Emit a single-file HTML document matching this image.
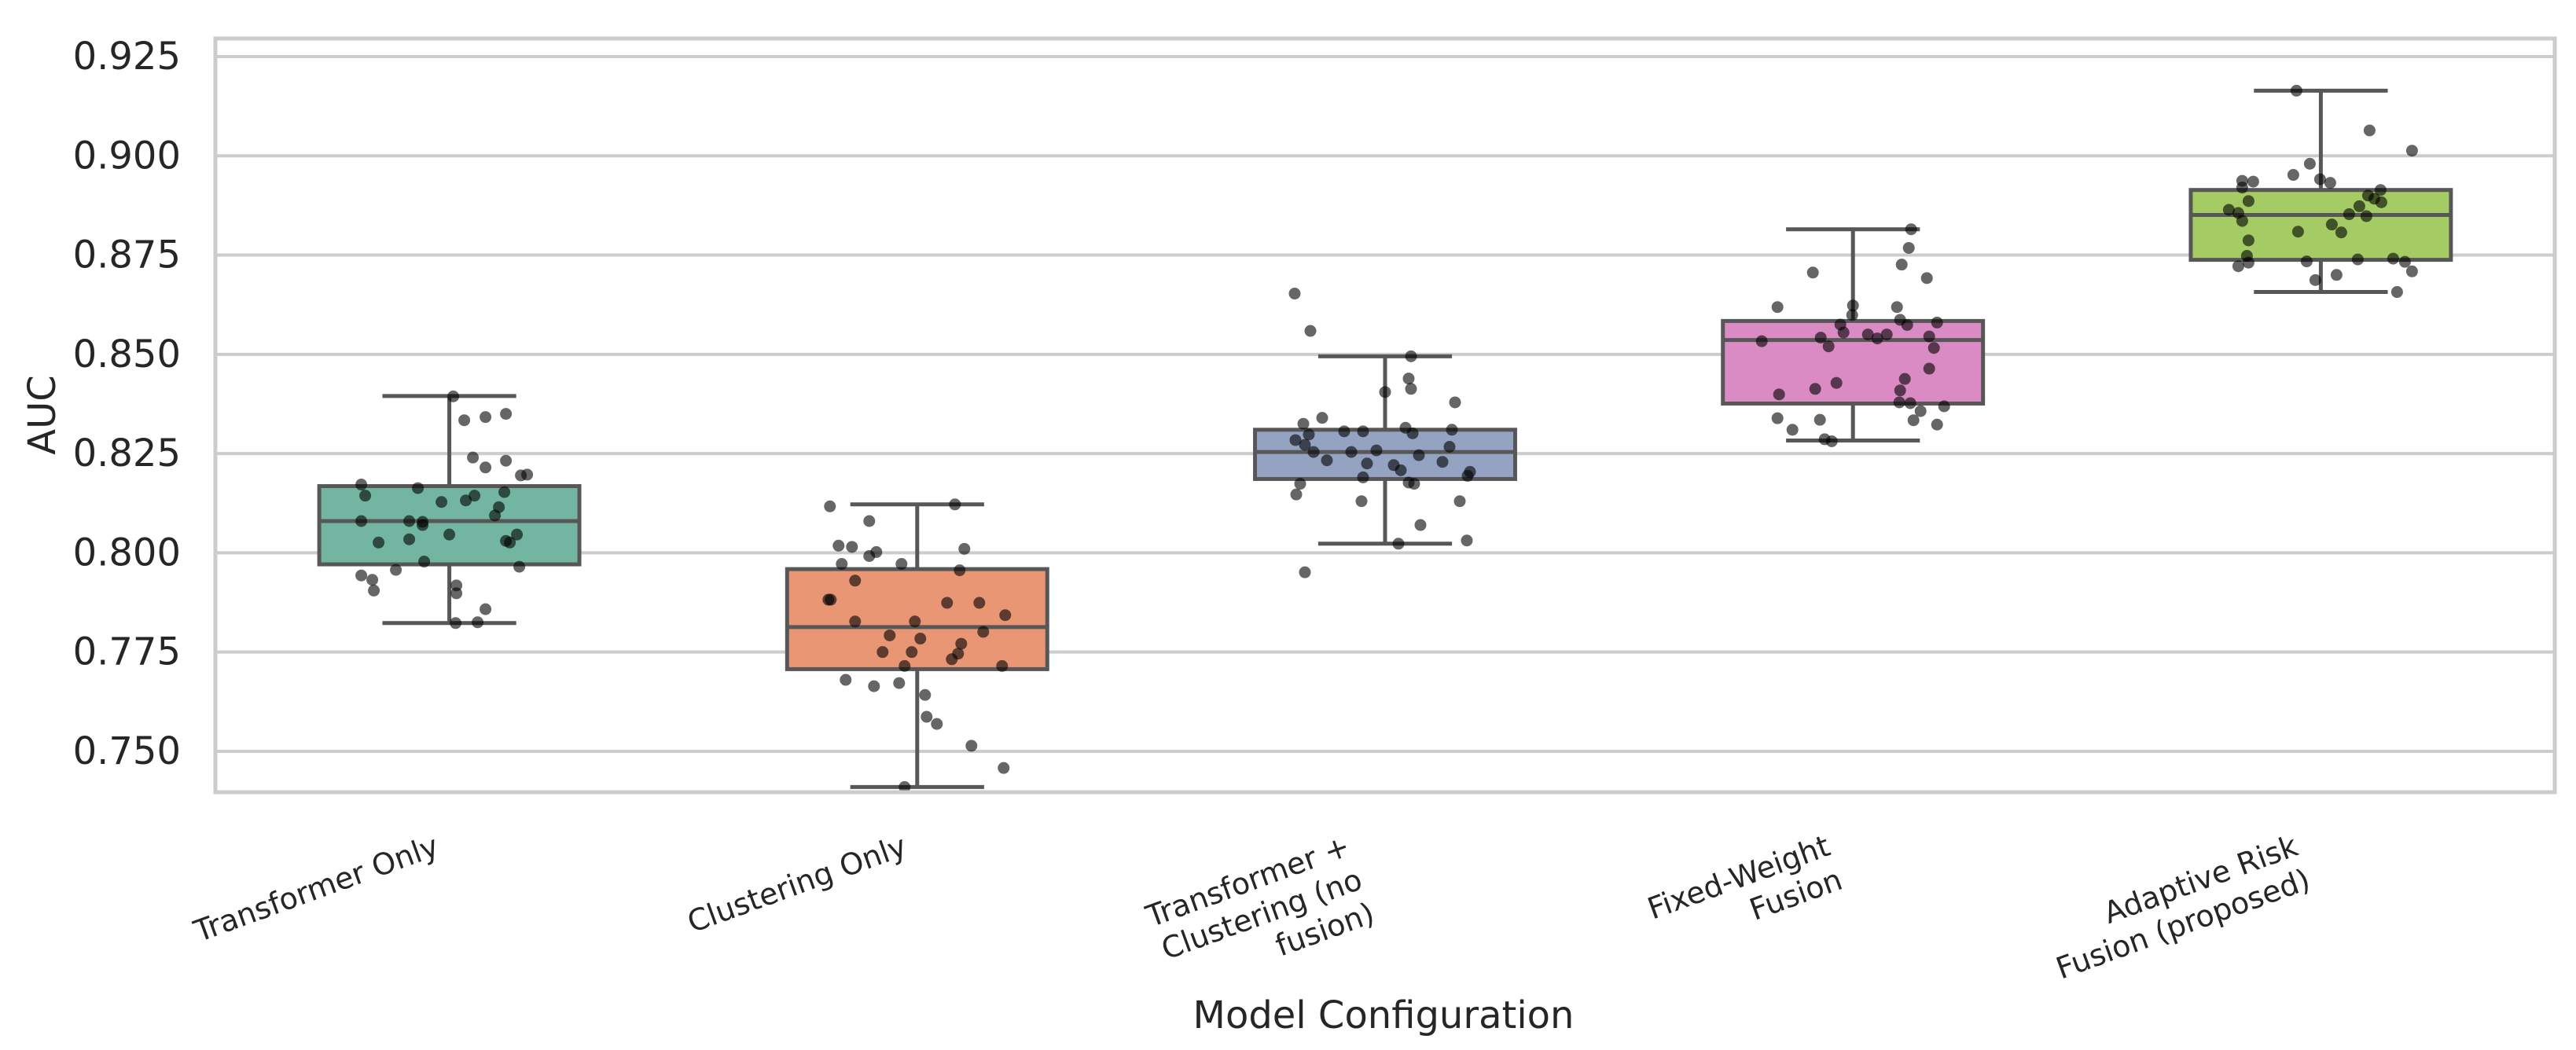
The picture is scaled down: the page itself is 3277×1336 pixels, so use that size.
<!DOCTYPE html>
<html><head><meta charset="utf-8">
<style>
html,body{margin:0;padding:0;background:#fff;}
svg{display:block;font-family:"DejaVu Sans","Liberation Sans",sans-serif;}
</style></head>
<body>
<svg id="chart" width="3277" height="1336" viewBox="0 0 3277 1336" xmlns="http://www.w3.org/2000/svg">
<rect x="0" y="0" width="3277" height="1336" fill="#ffffff"/>
<g id="grid"></g>
<g id="boxes"></g>
<g id="dots"></g>
<rect x="274" y="49" width="2976" height="959" fill="none" stroke="#cccccc" stroke-width="5"/>
<g id="yticks"></g>
<g id="xticks"></g>
<text x="54" y="528" transform="rotate(-90 54 528)" text-anchor="middle" dominant-baseline="central" font-size="48" fill="#262626">AUC</text>
<text x="1760" y="1308" text-anchor="middle" font-size="48" fill="#262626">Model Configuration</text>
</svg>
<script>
const categories = ["Transformer Only","Clustering Only","Transformer +\nClustering (no\nfusion)","Fixed-Weight\nFusion","Adaptive Risk\nFusion (proposed)"];
const whiskerLow = [0.7823,0.7410,0.8023,0.8283,0.8657];
const q1 = [0.7971,0.7707,0.8186,0.8376,0.8738];
const median = [0.8080,0.7813,0.8254,0.8536,0.8851];
const q3 = [0.8168,0.7959,0.8310,0.8584,0.8914];
const whiskerHigh = [0.8395,0.8122,0.8495,0.8815,0.9164];
const yTicks = [0.750,0.775,0.800,0.825,0.850,0.875,0.900,0.925];
const yTickLabels = ["0.750","0.775","0.800","0.825","0.850","0.875","0.900","0.925"];
const boxColors = ["#72b6a1","#e99675","#95a3c3","#da8bc3","#a4cb64"];
const pts0 = [0.8394,0.8334,0.8342,0.8350,0.8240,0.8215,0.8232,0.8195,0.8197,0.8172,0.8144,0.8163,0.8128,0.8132,0.8144,0.8153,0.8115,0.8094,0.8080,0.8080,0.8078,0.8070,0.8046,0.8026,0.8034,0.8030,0.8026,0.8046,0.7978,0.7957,0.7965,0.7943,0.7932,0.7905,0.7918,0.7898,0.7858,0.7823,0.7825];
const jit0 = [5,19,46,72,30,46,72,91,99,-112,-107,-40,-10,21,32,70,63,58,-112,-51,-34,-34,0,-90,-51,72,77,86,-32,-68,89,-112,-98,-96,9,9,46,8,36];
const pts1 = [0.8117,0.8122,0.8080,0.8018,0.8015,0.7992,0.8002,0.7972,0.7972,0.8010,0.7956,0.7930,0.7882,0.7882,0.7874,0.7874,0.7843,0.7827,0.7827,0.7801,0.7792,0.7784,0.7771,0.7750,0.7750,0.7746,0.7732,0.7715,0.7715,0.7680,0.7664,0.7672,0.7642,0.7587,0.7569,0.7514,0.7458,0.7410];
const jit1 = [-111,48,-61,-100,-83,-61,-52,-96,-20,60,54,-79,-113,-110,38,79,112,-79,-3,84,-35,4,56,-44,-7,52,44,-16,108,-91,-55,-23,10,12,25,69,110,-16];
const pts2 = [0.8653,0.8559,0.8495,0.8439,0.8413,0.8405,0.8379,0.8340,0.8325,0.8298,0.8284,0.8272,0.8254,0.8306,0.8306,0.8315,0.8301,0.8310,0.8267,0.8254,0.8258,0.8246,0.8233,0.8225,0.8221,0.8208,0.8229,0.8204,0.8194,0.8190,0.8174,0.8147,0.8177,0.8174,0.8130,0.8130,0.8070,0.8023,0.8031,0.7951];
const jit2 = [-115,-95,33,30,33,0,89,-80,-104,-97,-114,-102,-91,-52,-28,26,35,85,82,-43,-11,43,-74,-23,11,20,73,108,105,-28,-108,-113,30,37,-30,95,45,17,104,-102];
const pts3 = [0.8815,0.8768,0.8706,0.8726,0.8692,0.8619,0.8623,0.8599,0.8619,0.8587,0.8574,0.8580,0.8575,0.8555,0.8533,0.8542,0.8520,0.8550,0.8540,0.8550,0.8545,0.8516,0.8464,0.8438,0.8428,0.8413,0.8399,0.8409,0.8379,0.8377,0.8357,0.8369,0.8339,0.8310,0.8335,0.8334,0.8323,0.8286,0.8281];
const jit3 = [74,71,-51,62,94,-96,0,-1,56,60,69,107,-16,-12,-116,-41,-31,19,31,43,97,103,97,66,-21,-48,-94,60,59,73,86,116,-96,-77,-42,77,107,-36,-27];
const pts4 = [0.9164,0.9064,0.9013,0.8980,0.8952,0.8937,0.8935,0.8941,0.8932,0.8920,0.8914,0.8900,0.8892,0.8883,0.8886,0.8864,0.8856,0.8836,0.8873,0.8853,0.8848,0.8827,0.8807,0.8809,0.8787,0.8748,0.8734,0.8739,0.8741,0.8733,0.8722,0.8731,0.8709,0.8687,0.8700,0.8657];
const jit4 = [-31,62,116,-14,-35,-100,-86,-1,12,-100,76,60,68,77,-92,-117,-105,-100,49,36,58,14,26,-29,-92,-94,-18,47,92,107,-105,-92,116,-7,20,97];

const NS = "http://www.w3.org/2000/svg";
const L = 274, R = 3250, T = 49, B = 1008;
const yMin = 0.7397, yMax = 0.92955;
function yScale(v){ return B - (v - yMin) / (yMax - yMin) * (B - T); }
const band = (R - L) / categories.length;
function xScale(i){ return L + band * (i + 0.5); }
const boxHalf = band * 0.278, capHalf = band * 0.143;

function mk(tag, attrs, parent){
  const e = document.createElementNS(NS, tag);
  for (const k in attrs) e.setAttribute(k, attrs[k]);
  parent.appendChild(e);
  return e;
}

const grid = document.getElementById('grid');
const yt = document.getElementById('yticks');
yTicks.forEach((v, i) => {
  const y = yScale(v);
  const ln = mk('line', {x1: L, x2: R, y1: y, y2: y, stroke: '#cccccc', 'stroke-width': 4}, grid);
  
  
  const t = mk('text', {x: 230, y: y, 'text-anchor': 'end', 'dominant-baseline': 'central', 'font-size': 48, fill: '#262626'}, yt);
  t.textContent = yTickLabels[i];
  
  
});

const boxes = document.getElementById('boxes');
categories.forEach((c, i) => {
  const cx = xScale(i);
  const g = mk('g', {}, boxes);
  
  
  const st = {stroke: '#575757', 'stroke-width': 5};
  const w1 = mk('line', Object.assign({x1: cx, x2: cx, y1: yScale(q3[i]), y2: yScale(whiskerHigh[i])}, st), g);
  
  
  const w2 = mk('line', Object.assign({x1: cx, x2: cx, y1: yScale(q1[i]), y2: yScale(whiskerLow[i])}, st), g);
  
  
  const c1 = mk('line', Object.assign({x1: cx - capHalf, x2: cx + capHalf, y1: yScale(whiskerHigh[i]), y2: yScale(whiskerHigh[i])}, st), g);
  
  
  const c2 = mk('line', Object.assign({x1: cx - capHalf, x2: cx + capHalf, y1: yScale(whiskerLow[i]), y2: yScale(whiskerLow[i])}, st), g);
  
  
  const r = mk('rect', Object.assign({x: cx - boxHalf, y: yScale(q3[i]), width: boxHalf * 2, height: yScale(q1[i]) - yScale(q3[i]), fill: boxColors[i]}, st), g);
  
  
  const m = mk('line', Object.assign({x1: cx - boxHalf, x2: cx + boxHalf, y1: yScale(median[i]), y2: yScale(median[i])}, st), g);
  
  
});

const dots = document.getElementById('dots');
const allPts = [pts0, pts1, pts2, pts3, pts4];
const allJit = [jit0, jit1, jit2, jit3, jit4];
allPts.forEach((arr, i) => {
  arr.forEach((v, j) => {
    const d = mk('circle', {cx: xScale(i) + allJit[i][j] / 595.2 * band, cy: yScale(v), r: 7.5, fill: '#000', 'fill-opacity': 0.6}, dots);
    
    
  });
});

const xt = document.getElementById('xticks');
const ang = -20 * Math.PI / 180;
categories.forEach((c, i) => {
  const lines = c.split('\n');
  const g = mk('g', {}, xt);
  
  
  const t = mk('text', {x: 0, y: 0, 'text-anchor': 'end', 'font-size': 38, fill: '#262626'}, g);
  lines.forEach((ln, k) => {
    const ts = mk('tspan', {x: 0, dy: k === 0 ? 0 : 45.6}, t);
    ts.textContent = ln;
  });
  const bb = t.getBBox();
  const corners = [[bb.x, bb.y], [bb.x + bb.width, bb.y], [bb.x, bb.y + bb.height], [bb.x + bb.width, bb.y + bb.height]];
  let maxX = -1e9, minY = 1e9;
  corners.forEach(([px, py]) => {
    const rx = px * Math.cos(ang) - py * Math.sin(ang);
    const ry = px * Math.sin(ang) + py * Math.cos(ang);
    if (rx > maxX) maxX = rx;
    if (ry < minY) minY = ry;
  });
  const tx = xScale(i) - 8 - maxX, ty = 1054 - minY;
  g.setAttribute('transform', 'translate(' + tx + ',' + ty + ') rotate(-20)');
});
</script>
</body></html>
